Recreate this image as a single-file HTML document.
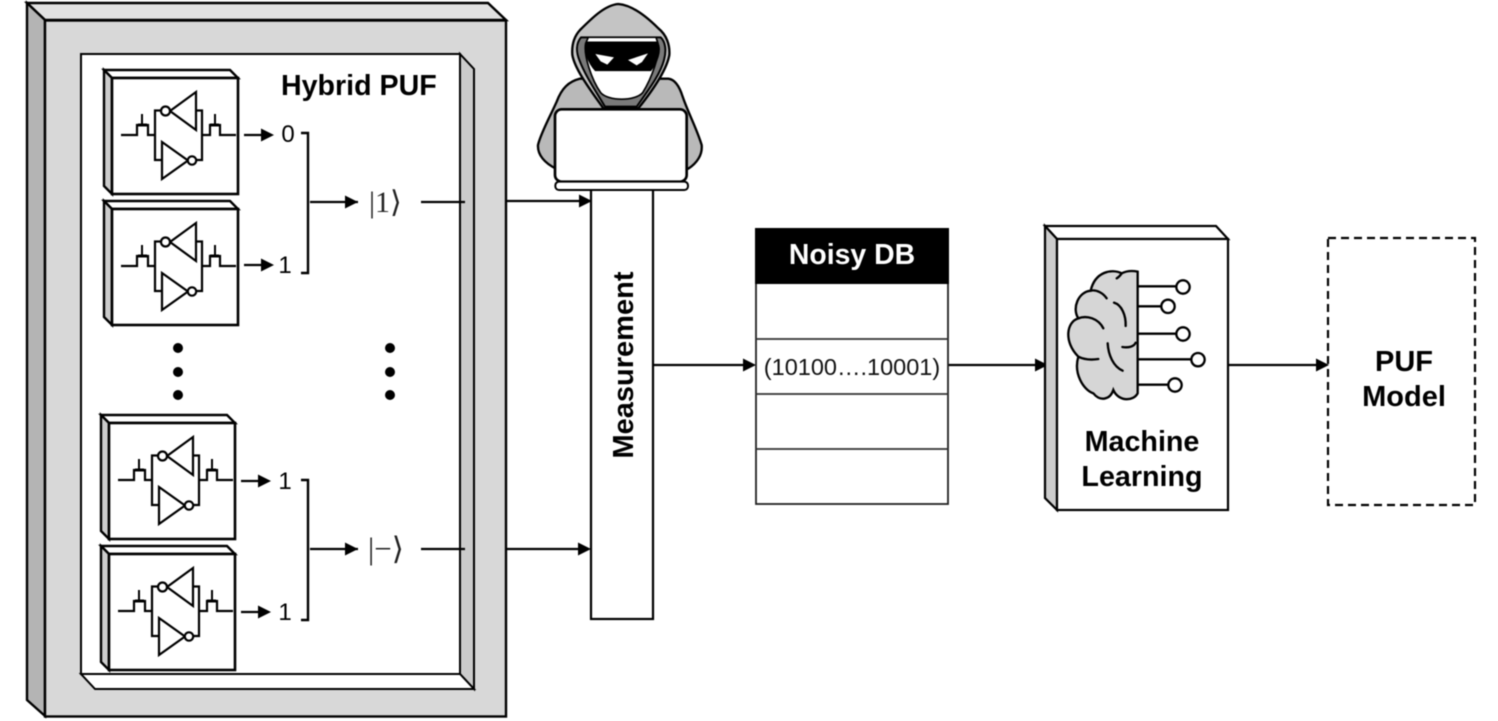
<!DOCTYPE html>
<html><head><meta charset="utf-8"><style>
html,body{margin:0;padding:0;background:#fff;width:1498px;height:721px;overflow:hidden}
svg{display:block}
text{font-family:"Liberation Sans",sans-serif;fill:#000}
.b{font-weight:bold}
</style></head><body>
<svg width="1498" height="721" viewBox="0 0 1498 721" xmlns="http://www.w3.org/2000/svg" style="filter:blur(.4px)">
<defs>
<g id="cell" stroke="#000" fill="none">
 <path d="M-8,-8H118L126,0H0Z" fill="#fff" stroke-width="2.400"/>
 <path d="M-8,-8L0,0V116L-8,108Z" fill="#ccc" stroke-width="2.400"/>
 <rect x="0" y="0" width="126" height="116" fill="#fff" stroke-width="2.600"/>
 <path d="M9,57H25V47H36V57H43M43,57V32.500H50M43,57V82H50M90,57V32.500H85M90,57V82H84M90,57H98V47H108V57H124" stroke-width="2.200"/>
 <path d="M30,36V47M103,36V47" stroke-width="2"/>
 <path d="M26,47H35M98,47H107" stroke-width="3"/>
 <path d="M84,14V52L58,33Z" fill="#fff" stroke-width="2.200"/>
 <circle cx="53.500" cy="33" r="4.500" fill="#fff" stroke-width="2.200"/>
 <path d="M50,64V101L76,82.500Z" fill="#fff" stroke-width="2.200"/>
 <circle cx="80" cy="82.500" r="4.200" fill="#fff" stroke-width="2.200"/>
</g>
<path id="ah" d="M0,-6.500L13,0L0,6.500Z" fill="#000"/>
</defs>

<!-- outer frame -->
<path d="M27,3H488L506,20H45Z" fill="#e2e2e2" stroke="#000" stroke-width="2.400"/>
<path d="M27,3L45,20V716L27,700Z" fill="#b4b4b4" stroke="#000" stroke-width="2.400"/>
<rect x="45" y="20.500" width="461" height="696" fill="#d8d8d8" stroke="#000" stroke-width="2.400"/>
<!-- inner panel -->
<rect x="81" y="54" width="379" height="620" fill="#fff"/>
<path d="M460,54L474,69V689L460,674Z" fill="#cbcbcb" stroke="#000" stroke-width="2"/>
<path d="M81,674H460L474,689H95Z" fill="#fff" stroke="#000" stroke-width="2"/>
<rect x="81" y="54" width="379" height="620" fill="none" stroke="#000" stroke-width="2"/>

<text x="281" y="95" class="b" font-size="28.600">Hybrid PUF</text>

<use href="#cell" x="112" y="78"/>
<use href="#cell" x="112" y="209"/>
<use href="#cell" x="109" y="423"/>
<use href="#cell" x="109" y="554"/>

<g stroke="#000" stroke-width="2.200" fill="none">
 <path d="M244,135H262M244,265H262M241,481H259M241,612H259"/>
 <path d="M301,133H308V273H301M301,480H308V620H301" stroke-width="2.400"/>
 <path d="M310,202H358M310,549H358"/>
 <path d="M421,202H465M421,549H465"/>
 <path d="M506,201H580M506,549H580"/>
 <path d="M654,365H745M948,365H1036M1229,365H1316"/>
</g>
<use href="#ah" x="261" y="135"/><use href="#ah" x="261" y="265"/>
<use href="#ah" x="258" y="481"/><use href="#ah" x="258" y="612"/>
<use href="#ah" x="345" y="202"/><use href="#ah" x="345" y="549"/>
<use href="#ah" x="579" y="201"/><use href="#ah" x="578" y="549"/>
<use href="#ah" x="743" y="365"/><use href="#ah" x="1035" y="365"/><use href="#ah" x="1316" y="365"/>

<g font-size="24" text-anchor="middle">
 <text x="288" y="142">0</text><text x="285" y="273">1</text>
 <text x="285" y="489">1</text><text x="285" y="620">1</text>
</g>
<text x="369" y="212" font-size="30" style="font-family:'Liberation Serif','DejaVu Sans',serif;fill:#222">|1⟩</text>
<text x="368" y="559" font-size="31" style="font-family:'Liberation Serif','DejaVu Sans',serif;fill:#222">|−⟩</text>

<g fill="#000">
 <circle cx="178" cy="348" r="5"/><circle cx="178" cy="372" r="5"/><circle cx="178" cy="395" r="5"/>
 <circle cx="390" cy="348" r="5"/><circle cx="390" cy="372" r="5"/><circle cx="390" cy="395" r="5"/>
</g>

<!-- measurement -->
<rect x="591" y="189" width="62" height="430" fill="#fff" stroke="#000" stroke-width="2.200"/>
<text transform="translate(633,365) rotate(-90)" text-anchor="middle" class="b" font-size="29">Measurement</text>

<!-- hacker -->
<g transform="translate(520,0) scale(.33333)" stroke="#000" stroke-linejoin="round">
 <path d="M180,236C145,245 125,265 110,305C90,350 62,400 54,435C52,465 75,490 108,506H505C530,490 548,465 545,435C530,385 505,340 488,290C478,258 465,238 445,236Z" fill="#b9b9b9" stroke-width="7"/>
 <path d="M295,12C255,15 215,55 180,90C160,112 155,140 157,165C165,210 215,275 250,325H355C395,275 440,210 448,165C450,135 440,105 415,85C380,50 335,15 295,12Z" fill="#c4c4c4" stroke-width="7"/>
 <path d="M183,112C168,130 168,155 178,180C195,225 225,270 255,320H350C385,270 420,225 432,180C440,150 436,125 422,112Z" fill="#7a7a7a" stroke-width="6"/>
 <path d="M205,112H408L414,130C422,160 395,235 368,278C345,304 265,304 242,278C215,240 190,165 197,130Z" fill="#fff" stroke-width="5"/>
 <path d="M200,126H412C428,150 410,190 392,212H226C206,190 188,150 200,126Z" fill="#000" stroke-width="3"/>
 <path d="M226,162L282,172L262,194L242,184Z" fill="#fff" stroke="none"/>
 <path d="M384,160L324,180L350,196L366,186Z" fill="#fff" stroke="none"/>
 <rect x="105" y="328" width="395" height="217" rx="20" fill="#fff" stroke-width="8"/>
 <rect x="106" y="545" width="398" height="25" rx="11" fill="#fff" stroke-width="6"/>
</g>

<!-- noisy db -->
<rect x="756" y="229" width="192" height="275" fill="#fff" stroke="#222" stroke-width="1.800"/>
<rect x="755" y="228" width="194" height="56" fill="#000"/>
<path d="M756,339H948M756,394H948M756,449H948" stroke="#333" stroke-width="1.800"/>
<text x="852" y="264" text-anchor="middle" class="b" font-size="28.400" style="fill:#fff">Noisy DB</text>
<text x="852" y="375" text-anchor="middle" font-size="23.500" style="fill:#111">(10100….10001)</text>

<!-- ML box -->
<path d="M1045,226H1216L1228,239H1057Z" fill="#fff" stroke="#000" stroke-width="2.200"/>
<path d="M1045,226L1057,239V510L1045,498Z" fill="#ccc" stroke="#000" stroke-width="2.200"/>
<rect x="1057" y="239" width="171" height="271" fill="#fff" stroke="#000" stroke-width="2.200"/>
<g transform="translate(1040,220) scale(.33333)" stroke="#000" fill="none" stroke-linecap="round">
 <path d="M293,155C270,150 255,155 245,160C215,145 165,155 152,212C115,215 95,265 115,295C80,305 70,365 115,410C100,460 130,510 160,520C180,545 210,540 220,510C235,545 280,545 293,520Z" fill="#d6d6d6" stroke-width="7"/>
 <path d="M152,212C170,208 190,220 200,235M115,295C140,285 175,295 190,325M115,410C135,420 155,420 175,417M245,160C240,168 235,172 230,175M222,248C245,255 258,285 257,318M203,370C205,405 220,440 248,452M247,381C265,384 282,380 287,368" stroke-width="7"/>
 <path d="M293,199H408M293,259H363M293,341H408M293,418H453M293,494H384" stroke-width="7"/>
 <g fill="#fff" stroke-width="7">
  <circle cx="429" cy="201" r="20"/><circle cx="384" cy="259" r="20"/><circle cx="429" cy="342" r="20"/><circle cx="474" cy="419" r="20"/><circle cx="405" cy="495" r="20"/>
 </g>
</g>
<text x="1142" y="451" text-anchor="middle" class="b" font-size="28.700">Machine</text>
<text x="1142" y="486" text-anchor="middle" class="b" font-size="28.700">Learning</text>

<!-- PUF model -->
<rect x="1328" y="238" width="147" height="267" fill="none" stroke="#000" stroke-width="2.200" stroke-dasharray="8 5"/>
<text x="1404" y="371" text-anchor="middle" class="b" font-size="29">PUF</text>
<text x="1404" y="406" text-anchor="middle" class="b" font-size="29">Model</text>
</svg>
</body></html>
